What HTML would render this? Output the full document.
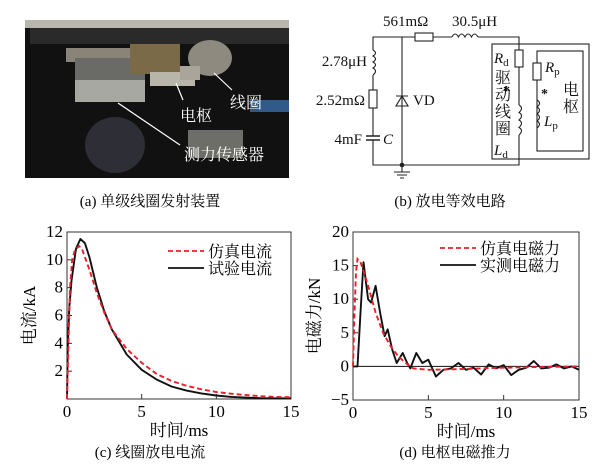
<!DOCTYPE html>
<html><head><meta charset="utf-8">
<style>
body{margin:0;background:#fff;}
svg{display:block;font-family:"Liberation Serif","Noto Serif CJK SC",serif;}
.cjk{font-family:"Liberation Serif","Noto Serif CJK SC",serif;}
</style></head><body>
<svg id="fig" width="600" height="470" viewBox="0 0 600 470">
<!-- (a) photo -->
<g>
<rect x="25" y="20" width="264" height="158" fill="#111"/>
<rect x="25" y="20" width="264" height="8" fill="#b9b7ad"/>
<rect x="30" y="28" width="259" height="16" fill="#2a2a2a"/>
<rect x="66" y="48" width="110" height="14" fill="#8a8478"/>
<rect x="75" y="58" width="70" height="40" fill="#6a6a66"/>
<rect x="75" y="80" width="70" height="22" fill="#a8a8a2"/>
<rect x="130" y="44" width="50" height="30" fill="#7a6a48"/>
<rect x="150" y="72" width="45" height="14" fill="#b8b6a8"/>
<ellipse cx="210" cy="58" rx="22" ry="18" fill="#8e8a80"/>
<rect x="180" y="66" width="20" height="14" fill="#a9a59b"/>
<ellipse cx="115" cy="145" rx="30" ry="28" fill="#2e2e36"/>
<rect x="188" y="130" width="55" height="28" fill="#6e6e68"/>
<rect x="250" y="100" width="39" height="12" fill="#2f5a8a"/>
<line x1="118" y1="103" x2="180" y2="145" stroke="#fff" stroke-width="1.2"/>
<line x1="176" y1="83" x2="183" y2="100" stroke="#fff" stroke-width="1.2"/>
<line x1="214" y1="73" x2="232" y2="90" stroke="#fff" stroke-width="1.2"/>
<text x="230" y="108" fill="#fff" font-size="16" class="cjk">线圈</text>
<text x="180" y="121" fill="#fff" font-size="16" class="cjk">电枢</text>
<text x="184" y="160" fill="#fff" font-size="16" class="cjk">测力传感器</text>
</g>
<text x="150" y="206" text-anchor="middle" font-size="15" class="cjk">(a) 单级线圈发射装置</text>

<!-- (b) circuit -->
<g stroke="#222" stroke-width="1.1" fill="none">
<path d="M373 50 V37 H415 M433 37 H452 M478 37 H519 V50 M519 67 V105 M519 135 V165 H373 V140 M373 136 V108 M373 90 V75"/>
<path d="M373 50 q5 3 0 6 q5 3 0 6 q5 3 0 6 q5 3 0 7"/>
<rect x="369" y="90" width="8" height="18"/>
<path d="M366 136 H380 M366 140 H380" stroke-width="1.4"/>
<rect x="415" y="33" width="18" height="8"/>
<path d="M452 37 q3 -6 6.5 0 q3 -6 6.5 0 q3 -6 6.5 0 q3 -6 6.5 0"/>
<path d="M402 37 V165"/>
<path d="M396 106 H408 L402 96 Z M396 96 H408"/>
<circle cx="402" cy="165" r="1.8" fill="#222"/>
<path d="M402 165 V172 M394 172 H410 M397 175 H407 M400 178 H404"/>
<rect x="492" y="44" width="97" height="115"/>
<rect x="537" y="51" width="46" height="100"/>
<rect x="515" y="50" width="8" height="17"/>
<path d="M519 105 q5 3 0 7.5 q5 3 0 7.5 q5 3 0 7.5 q5 3 0 7.5"/>
<rect x="533" y="63" width="8" height="17" fill="#fff"/>
<path d="M537 100 q5 3 0 7 q5 3 0 7 q5 3 0 7 q5 3 0 7"/>
</g>
<g font-size="15" fill="#111">
<text x="383" y="26">561mΩ</text>
<text x="452" y="26">30.5μH</text>
<text x="367" y="66" text-anchor="end">2.78μH</text>
<text x="365" y="105" text-anchor="end">2.52mΩ</text>
<text x="362" y="144" text-anchor="end">4mF</text>
<text x="383" y="144" font-style="italic">C</text>
<text x="413" y="105">VD</text>
<text x="494" y="63" font-style="italic">R<tspan font-size="11" font-style="normal" dy="3">d</tspan></text>
<text x="494" y="155" font-style="italic">L<tspan font-size="11" font-style="normal" dy="3">d</tspan></text>
<text x="545" y="72" font-style="italic">R<tspan font-size="11" font-style="normal" dy="3">p</tspan></text>
<text x="544" y="126" font-style="italic">L<tspan font-size="11" font-style="normal" dy="3">p</tspan></text>
<text x="503" y="95" font-size="14" font-weight="bold">*</text>
<text x="541" y="98" font-size="14" font-weight="bold">*</text>
<g class="cjk" font-size="16">
<text x="495" y="83">驱</text><text x="495" y="100">动</text><text x="495" y="117">线</text><text x="495" y="134">圈</text>
<text x="563" y="95">电</text><text x="563" y="112">枢</text>
</g>
</g>
<text x="450" y="206" text-anchor="middle" font-size="15" class="cjk">(b) 放电等效电路</text>

<g id="chartC"></g>
<g id="chartD"></g>
<text x="150" y="457" text-anchor="middle" font-size="15" class="cjk">(c) 线圈放电电流</text>
<text x="455" y="457" text-anchor="middle" font-size="15" class="cjk">(d) 电枢电磁推力</text>
</svg>
<script>
const cXTicks=[0,5,10,15];
const cYTicks=[2,4,6,8,10,12];
const cSimT=[0,0.1,0.2,0.35,0.5,0.8,1,1.5,2,2.5,3,4,5,6,7,8,9,10,11,12,13,14,15];
const cSimV=[0,4,8,10,10.6,11,10.8,9.3,7.6,6.2,5,3.6,2.6,1.8,1.3,0.95,0.7,0.5,0.38,0.28,0.2,0.15,0.12];
const cExpT=[0,0.05,0.15,0.3,0.6,0.9,1.2,1.5,2,2.5,3,4,5,6,7,8,9,10,11,12,13,15];
const cExpV=[0,3.5,6.5,8.5,10.8,11.5,11.2,10.2,8,6.3,5,3.2,2.1,1.4,0.9,0.6,0.4,0.25,0.15,0.1,0.06,0.05];
const dXTicks=[0,5,10,15];
const dYTicks=[-5,0,5,10,15,20];
const dSimT=[0,0.1,0.2,0.3,0.5,0.8,1,1.5,2,2.5,3,3.5,4,5,7,10,12,15];
const dSimV=[0,8,14,16,15.5,13.5,12,8,5,3,1.5,0.5,-0.3,-0.5,-0.4,-0.2,-0.1,0];
const dExpT=[0,0.3,0.5,0.7,1,1.2,1.5,1.8,2.1,2.3,2.6,2.9,3.3,3.6,3.8,4.2,4.6,5,5.5,6,6.5,7,7.5,8,8.5,9,9.5,10,10.5,11,11.5,12,12.5,13,13.5,14,14.5,15];
const dExpV=[0,0,8,15.5,10,9.5,12,8,4.5,5.5,2.5,0.5,2,0.5,-0.3,2,0.5,1,-1.5,-0.5,-0.3,0.5,-0.5,-0.2,-1.2,0.3,-0.3,0.2,-1.3,-0.5,-0.2,0.8,-0.3,-0.2,0.3,-0.3,0,-0.5];

const NS="http://www.w3.org/2000/svg";
function mk(parent,tag,attrs){const e=document.createElementNS(NS,tag);for(const k in attrs)e.setAttribute(k,attrs[k]);parent.appendChild(e);return e;}
function chart(g,o){
  const sx=v=>o.x0+(v-o.xmin)/(o.xmax-o.xmin)*(o.x1-o.x0);
  const sy=v=>o.y0-(v-o.ymin)/(o.ymax-o.ymin)*(o.y0-o.y1);
  const box=mk(g,'rect',{x:o.x0,y:o.y1,width:o.x1-o.x0,height:o.y0-o.y1,fill:'none',stroke:'#333','stroke-width':1});
  
  
  o.xt.forEach(v=>{
    const t=mk(g,'line',{x1:sx(v),x2:sx(v),y1:o.y0,y2:o.y0-5,stroke:'#333'});
    
    
    const l=mk(g,'text',{x:sx(v),y:o.y0+18,'text-anchor':'middle','font-size':17});
    l.textContent=v;
    
    
  });
  o.yt.forEach(v=>{
    const t=mk(g,'line',{x1:o.x0,x2:o.x0+5,y1:sy(v),y2:sy(v),stroke:'#333'});
    
    
    const l=mk(g,'text',{x:o.x0-4,y:sy(v)+5,'text-anchor':'end','font-size':17});
    l.textContent=v<0?'−'+(-v):v;
    
    
  });
  if(o.zero){const z=mk(g,'line',{x1:o.x0,x2:o.x1,y1:sy(0),y2:sy(0),stroke:'#111'});
    
    }
  const pts=(T,V)=>T.map((t,i)=>sx(t).toFixed(1)+','+sy(V[i]).toFixed(1)).join(' ');
  const e=mk(g,'polyline',{points:pts(o.eT,o.eV),fill:'none',stroke:'#111','stroke-width':1.9,'stroke-linejoin':'round'});
  
  
  const s=mk(g,'polyline',{points:pts(o.sT,o.sV),fill:'none',stroke:'#e8202a','stroke-width':1.9,'stroke-dasharray':'5,3'});
  
  
  const xl=mk(g,'text',{x:(o.x0+o.x1)/2,y:o.y0+37,'text-anchor':'middle','font-size':17,class:'cjk'});
  xl.textContent='时间/ms';
  
  
  const yl=mk(g,'text',{x:0,y:0,'text-anchor':'middle','font-size':17,class:'cjk',transform:`translate(${o.ylx},${(o.y0+o.y1)/2}) rotate(-90)`});
  yl.textContent=o.ytitle;
  
  
  const l1=mk(g,'line',{x1:o.lx,x2:o.lx+36,y1:o.ly,y2:o.ly,stroke:'#e8202a','stroke-width':1.8,'stroke-dasharray':'5,3'});
  
  
  const t1=mk(g,'text',{x:o.lx+40,y:o.ly+6,'font-size':16,class:'cjk'});t1.textContent=o.lab1;
  
  
  const l2=mk(g,'line',{x1:o.lx,x2:o.lx+36,y1:o.ly+17,y2:o.ly+17,stroke:'#111','stroke-width':1.8});
  
  
  const t2=mk(g,'text',{x:o.lx+40,y:o.ly+23,'font-size':16,class:'cjk'});t2.textContent=o.lab2;
  
  
}
chart(document.getElementById('chartC'),{x0:67,x1:291,y0:399,y1:232,xmin:0,xmax:15,ymin:0,ymax:12,xt:cXTicks,yt:cYTicks,sT:cSimT,sV:cSimV,eT:cExpT,eV:cExpV,ytitle:'电流/kA',ylx:35,lx:168,ly:251,lab1:'仿真电流',lab2:'试验电流'});
chart(document.getElementById('chartD'),{x0:353,x1:579,y0:400,y1:232,xmin:0,xmax:15,ymin:-5,ymax:20,xt:dXTicks,yt:dYTicks,sT:dSimT,sV:dSimV,eT:dExpT,eV:dExpV,ytitle:'电磁力/kN',ylx:320,lx:440,ly:248,lab1:'仿真电磁力',lab2:'实测电磁力',zero:true});
</script>
</body></html>
